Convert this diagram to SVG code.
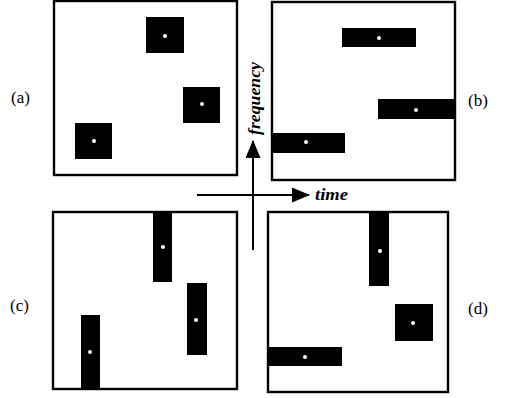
<svg xmlns="http://www.w3.org/2000/svg" width="506" height="398" viewBox="0 0 506 398">
<style>
.box{fill:#fff;stroke:#000;stroke-width:2.4}
.blk{fill:#000}
.dot{fill:#fff}
.lbl{font-family:"Liberation Serif",serif;font-size:17px;fill:#000}
.ax{font-family:"Liberation Serif",serif;font-size:16px;font-style:italic;font-weight:bold;fill:#000}
.line{stroke:#000;stroke-width:2;fill:none}
</style>
<defs>
<marker id="ah" viewBox="0 0 18 15" refX="17" refY="7.5" markerWidth="18" markerHeight="15" markerUnits="userSpaceOnUse" orient="auto">
<path d="M0,0 L18,7.5 L0,15 Z" fill="#000"/>
</marker>
</defs>
<rect width="506" height="398" fill="#fff"/>
<g id="panel-a">
<rect class="box" x="54" y="1" width="183" height="174"/>
<rect class="blk" x="146" y="17" width="38" height="36"/><circle class="dot" cx="165" cy="36" r="2"/>
<rect class="blk" x="183" y="87" width="37" height="36"/><circle class="dot" cx="202" cy="104" r="2"/>
<rect class="blk" x="75" y="123" width="37" height="36"/><circle class="dot" cx="94" cy="141" r="2"/>
<text class="lbl" x="11" y="103">(a)</text>
</g>
<g id="panel-b">
<rect class="box" x="272" y="2" width="183" height="178"/>
<rect class="blk" x="342" y="28" width="74" height="19"/><circle class="dot" cx="379" cy="38" r="2"/>
<rect class="blk" x="378" y="99" width="76" height="20"/><circle class="dot" cx="416" cy="110" r="2"/>
<rect class="blk" x="271" y="133" width="74" height="20"/><circle class="dot" cx="306" cy="142" r="2"/>
<text class="lbl" x="468" y="106">(b)</text>
</g>
<g id="panel-c">
<rect class="box" x="53" y="212" width="184" height="177"/>
<rect class="blk" x="153" y="212" width="19" height="70"/><circle class="dot" cx="163" cy="247" r="2"/>
<rect class="blk" x="187" y="283" width="20" height="72"/><circle class="dot" cx="196" cy="320" r="2"/>
<rect class="blk" x="81" y="315" width="19" height="73"/><circle class="dot" cx="90" cy="352" r="2"/>
<text class="lbl" x="10" y="311">(c)</text>
</g>
<g id="panel-d">
<rect class="box" x="268" y="212" width="180" height="180"/>
<rect class="blk" x="369" y="213" width="20" height="73"/><circle class="dot" cx="380" cy="251" r="2"/>
<rect class="blk" x="395" y="304" width="38" height="37"/><circle class="dot" cx="413" cy="323" r="2"/>
<rect class="blk" x="268" y="347" width="74" height="19"/><circle class="dot" cx="305" cy="357" r="2"/>
<text class="lbl" x="468" y="314">(d)</text>
</g>
<g id="connectors">
<line class="line" x1="253" y1="250" x2="253" y2="141" marker-end="url(#ah)"/>
<line class="line" x1="197" y1="195" x2="309" y2="195" marker-end="url(#ah)"/>
<text class="ax" transform="translate(260,135) rotate(-90)" textLength="73" lengthAdjust="spacingAndGlyphs">frequency</text>
<text class="ax" x="315" y="200" textLength="33" lengthAdjust="spacingAndGlyphs">time</text>
</g>
</svg>
